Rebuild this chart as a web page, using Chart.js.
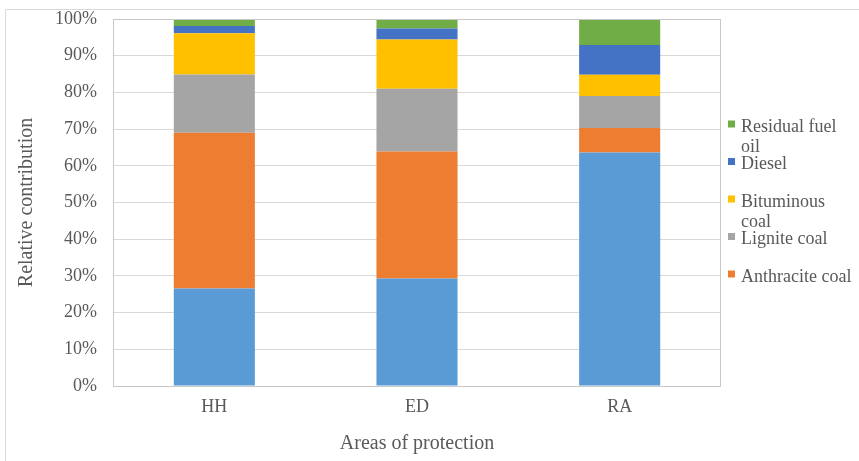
<!DOCTYPE html>
<html>
<head>
<meta charset="utf-8">
<script src="https://cdn.jsdelivr.net/npm/chart.js@4"></script>
<style>
  html, body { margin: 0; padding: 0; background: #ffffff; }
  #wrap { width: 859px; height: 461px; position: relative; }
</style>
</head>
<body>
<div id="wrap"><canvas id="chart" width="859" height="461"></canvas></div>
<script>
// Areas of protection on the x axis
const categories = ['HH', 'ED', 'RA'];

// Relative contribution (%) of each fuel per area of protection, bottom to top
const naturalGas     = [26.6, 29.3, 63.6];
const anthraciteCoal = [42.4, 34.6, 6.7];
const ligniteCoal    = [15.9, 17.1, 8.7];
const bituminousCoal = [11.2, 13.4, 5.8];
const diesel         = [2.0, 3.0, 8.1];
const residualFuel   = [1.9, 2.6, 7.1];

const yTicks = [0, 10, 20, 30, 40, 50, 60, 70, 80, 90, 100];

const seriesNames = ['Natural gas', 'Anthracite coal', 'Lignite coal', 'Bituminous coal', 'Diesel', 'Residual fuel oil'];
const seriesData = [naturalGas, anthraciteCoal, ligniteCoal, bituminousCoal, diesel, residualFuel];
const seriesColors = ['#5B9BD5', '#ED7D31', '#A5A5A5', '#FFC000', '#4472C4', '#70AD47'];
// series listed in the side legend (top to bottom)
const legendOrder = ['Residual fuel oil', 'Diesel', 'Bituminous coal', 'Lignite coal', 'Anthracite coal'];

const SERIF = '"Liberation Serif", "Times New Roman", serif';
const TEXT = '#595959';

// Outer frame and plot-area outline
const framePlugin = {
  id: 'frame',
  beforeDraw(chart) {
    const ctx = chart.ctx;
    ctx.save();
    ctx.strokeStyle = '#D9D9D9';
    ctx.lineWidth = 1;
    ctx.beginPath();
    ctx.moveTo(5.5, chart.height);
    ctx.lineTo(5.5, 9.5);
    ctx.lineTo(chart.width, 9.5);
    ctx.stroke();
    ctx.restore();
  },
  afterDatasetsDraw(chart) {
    const a = chart.chartArea;
    const ctx = chart.ctx;
    ctx.save();
    ctx.strokeStyle = '#C8C8C8';
    ctx.lineWidth = 1;
    ctx.strokeRect(Math.round(a.left) + 0.5, Math.round(a.top) + 0.5,
                   Math.round(a.right - a.left) - 1, Math.round(a.bottom - a.top));
    ctx.restore();
  }
};

// Side legend with word-wrapped labels
const sideLegend = {
  id: 'sideLegend',
  afterDraw(chart) {
    const ctx = chart.ctx;
    const a = chart.chartArea;
    const boxX = a.right + 7;
    const textX = boxX + 13;
    const maxW = chart.width - textX - 2;
    const startY = 124, step = 37.5, box = 7, lineH = 20;
    ctx.save();
    ctx.font = '18px ' + SERIF;
    ctx.textBaseline = 'alphabetic';
    legendOrder.forEach((name, i) => {
      const ds = chart.data.datasets.find(d => d.label === name);
      const cy = startY + i * step;
      ctx.fillStyle = ds.backgroundColor;
      ctx.fillRect(boxX, cy - box / 2, box, box);
      // wrap words into lines
      const words = name.split(' ');
      const lines = [];
      let cur = '';
      words.forEach(w => {
        const t = cur ? cur + ' ' + w : w;
        if (ctx.measureText(t).width > maxW && cur) { lines.push(cur); cur = w; }
        else cur = t;
      });
      lines.push(cur);
      ctx.fillStyle = TEXT;
      lines.forEach((ln, j) => ctx.fillText(ln, textX, cy + 7.5 + j * lineH));
    });
    ctx.restore();
  }
};

new Chart(document.getElementById('chart'), {
  type: 'bar',
  data: {
    labels: categories,
    datasets: seriesNames.map((name, i) => ({
      label: name,
      data: seriesData[i],
      backgroundColor: seriesColors[i],
      borderWidth: 0,
      barPercentage: 0.4,
      categoryPercentage: 1.0
    }))
  },
  options: {
    responsive: false,
    animation: false,
    layout: { padding: { left: 0, right: 138, top: 19, bottom: 0 } },
    plugins: { legend: { display: false }, tooltip: { enabled: false } },
    scales: {
      x: {
        stacked: true,
        grid: { display: false, drawTicks: false },
        border: { display: false },
        ticks: { color: TEXT, font: { family: SERIF, size: 18 }, padding: 10 },
        title: { display: true, text: 'Areas of protection', color: TEXT,
                 font: { family: SERIF, size: 20 }, padding: { top: 0, bottom: 5 } },
        afterFit(scale) { scale.height = 75; }
      },
      y: {
        stacked: true,
        min: 0, max: 100,
        afterBuildTicks(scale) { scale.ticks = yTicks.map(v => ({ value: v })); },
        grid: { color: '#D9D9D9', drawTicks: false },
        border: { display: false },
        ticks: { color: TEXT, font: { family: SERIF, size: 18 }, padding: 16,
                 callback: v => v + '%' },
        title: { display: true, text: 'Relative contribution', color: TEXT,
                 font: { family: SERIF, size: 20 }, padding: { top: 15, bottom: 0 } },
        afterFit(scale) {
          scale.width = 113;
          scale.paddingTop = 0;
          scale.paddingBottom = 0;
        }
      }
    }
  },
  plugins: [framePlugin, sideLegend]
});
</script>
</body>
</html>
